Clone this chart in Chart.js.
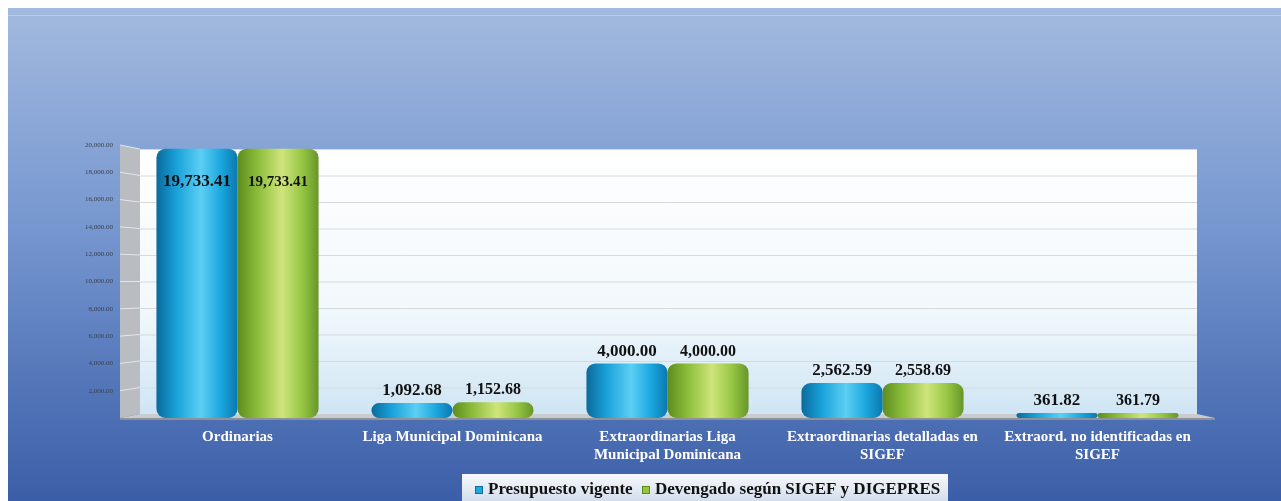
<!DOCTYPE html>
<html>
<head>
<meta charset="utf-8">
<script src="https://cdn.jsdelivr.net/npm/chart.js@4.4.1/dist/chart.umd.min.js"></script>
<style>
  html, body { margin: 0; padding: 0; background: #fff; }
  #wrap { position: relative; width: 1281px; height: 501px; }
</style>
</head>
<body>
<div id="wrap"><canvas id="chart" width="1281" height="501"></canvas></div>
<script>
// ─── Data ────────────────────────────────────────────────────────────────
const CATEGORIES = [
  "Ordinarias",
  "Liga Municipal Dominicana",
  ["Extraordinarias Liga", "Municipal Dominicana"],
  ["Extraordinarias detalladas en", "SIGEF"],
  ["Extraord. no identificadas en", "SIGEF"],
];
const PRESUPUESTO = [19733.41, 1092.68, 4000.00, 2562.59, 361.82];
const DEVENGADO   = [19733.41, 1152.68, 4000.00, 2558.69, 361.79];
const SERIES_LABELS = ["Presupuesto vigente", "Devengado según SIGEF y DIGEPRES"];
const Y_MAX  = 20000;
const Y_STEP = 2000;

const CAT_PCT = 0.754;
const SERIF = "'Liberation Serif', 'Times New Roman', serif";

const fmt = v => v.toLocaleString("en-US", { minimumFractionDigits: 2, maximumFractionDigits: 2 });

// ─── Gradients ───────────────────────────────────────────────────────────
const BLUE_STOPS  = [[0, "#0a6a9c"], [0.25, "#19a2da"], [0.55, "#5ccff4"], [0.8, "#1aa6de"], [1, "#0b78ae"]];
const GREEN_STOPS = [[0, "#5d8c1e"], [0.25, "#8cbd3a"], [0.55, "#cfe57c"], [0.8, "#96c543"], [1, "#67962a"]];

function barFill(stops, flat, side) {
  return ctx => {
    const chart = ctx.chart;
    if (!chart.chartArea || ctx.dataIndex === undefined) return flat;
    const xs = chart.scales.x;
    const c  = xs.getPixelForValue(ctx.dataIndex);
    const w  = (chart.chartArea.width / CATEGORIES.length) * CAT_PCT / 2;
    const x0 = side === 0 ? c - w : c;
    const g  = chart.ctx.createLinearGradient(x0, 0, x0 + w, 0);
    stops.forEach(s => g.addColorStop(s[0], s[1]));
    return g;
  };
}

// ─── Background + 3D walls ───────────────────────────────────────────────
const backdrop = {
  id: "backdrop",
  beforeDraw(chart) {
    const { ctx, width, height } = chart;
    const ys = chart.scales.y;
    ctx.save();
    ctx.fillStyle = "#ffffff";
    ctx.fillRect(0, 0, width, height);

    const bg = ctx.createLinearGradient(0, 8, 0, height);
    bg.addColorStop(0, "#a3badf");
    bg.addColorStop(0.45, "#7596cf");
    bg.addColorStop(1, "#3b5ea8");
    ctx.fillStyle = bg;
    ctx.fillRect(8, 8, width - 8, height - 8);
    ctx.fillStyle = "rgba(255,255,255,0.25)";
    ctx.fillRect(8, 15, width - 8, 1);

    const top = ys.getPixelForValue(Y_MAX), bot = ys.getPixelForValue(0);
    const bx0 = 140, bx1 = 1197, back = 4;

    // back wall
    const wall = ctx.createLinearGradient(0, top + back, 0, bot - back);
    wall.addColorStop(0, "#ffffff");
    wall.addColorStop(0.6, "#f2f8fc");
    wall.addColorStop(1, "#cfe5f4");
    ctx.fillStyle = wall;
    ctx.fillRect(bx0, top + back, bx1 - bx0, bot - top - 2 * back);

    // left wall
    ctx.fillStyle = "#b9bcc0";
    ctx.beginPath();
    ctx.moveTo(120, top); ctx.lineTo(bx0, top + back);
    ctx.lineTo(bx0, bot - back); ctx.lineTo(120, bot);
    ctx.closePath(); ctx.fill();

    // grid lines
    for (let v = Y_STEP; v <= Y_MAX; v += Y_STEP) {
      const y = ys.getPixelForValue(v);
      const yb = top + back + (y - top) * (bot - top - 2 * back) / (bot - top);
      ctx.strokeStyle = "#e4e6e8";
      ctx.lineWidth = 1;
      ctx.beginPath(); ctx.moveTo(120, y); ctx.lineTo(bx0, yb); ctx.stroke();
      ctx.strokeStyle = "#d6dadd";
      ctx.beginPath(); ctx.moveTo(bx0, yb + 0.5); ctx.lineTo(bx1, yb + 0.5); ctx.stroke();
    }

    // floor
    ctx.fillStyle = "#c9ccce";
    ctx.beginPath();
    ctx.moveTo(120, bot); ctx.lineTo(bx0, bot - back);
    ctx.lineTo(bx1, bot - back); ctx.lineTo(1215, bot);
    ctx.closePath(); ctx.fill();
    ctx.fillStyle = "#8e9296";
    ctx.fillRect(120, bot, 1095, 2);
    ctx.restore();
  },
};

// ─── Value labels + legend ───────────────────────────────────────────────
const overlay = {
  id: "overlay",
  afterDatasetsDraw(chart) {
    const { ctx } = chart;
    ctx.save();
    ctx.fillStyle = "#111";
    ctx.textAlign = "center";
    ctx.textBaseline = "middle";
    chart.data.datasets.forEach((ds, di) => {
      chart.getDatasetMeta(di).data.forEach((bar, i) => {
        const v = ds.data[i];
        const inside = v > 15000;
        const size = di === 0 ? 17 : (inside ? 15 : 16);
        ctx.font = `bold ${size}px ${SERIF}`;
        const y = inside ? bar.y + 33 : bar.y - 12;
        ctx.fillText(fmt(v), bar.x, y);
      });
    });

    // legend box
    const lx = 462, ly = 474, lw = 486, lh = 27;
    const lg = ctx.createLinearGradient(0, ly, 0, ly + lh);
    lg.addColorStop(0, "#f7f9fc");
    lg.addColorStop(1, "#d3deec");
    ctx.fillStyle = lg;
    ctx.fillRect(lx, ly, lw, lh);
    ctx.font = `bold 17px ${SERIF}`;
    ctx.textAlign = "left";
    const items = [
      { x: 475, color: "#1fa8e0", edge: "#0b6d9f" },
      { x: 642, color: "#96c640", edge: "#5d8c1e" },
    ];
    items.forEach((it, i) => {
      ctx.fillStyle = it.edge;
      ctx.fillRect(it.x, 486, 8, 8);
      ctx.fillStyle = it.color;
      ctx.fillRect(it.x + 1, 487, 6, 6);
      ctx.fillStyle = "#111";
      ctx.fillText(SERIES_LABELS[i], it.x + 13, 490);
    });
    ctx.restore();
  },
};

// ─── Chart ───────────────────────────────────────────────────────────────
new Chart(document.getElementById("chart"), {
  type: "bar",
  data: {
    labels: CATEGORIES,
    datasets: [
      {
        label: SERIES_LABELS[0],
        data: PRESUPUESTO,
        backgroundColor: barFill(BLUE_STOPS, "#1fa8e0", 0),
        borderRadius: 9,
        borderSkipped: false,
        categoryPercentage: CAT_PCT,
        barPercentage: 1,
      },
      {
        label: SERIES_LABELS[1],
        data: DEVENGADO,
        backgroundColor: barFill(GREEN_STOPS, "#96c640", 1),
        borderRadius: 9,
        borderSkipped: false,
        categoryPercentage: CAT_PCT,
        barPercentage: 1,
      },
    ],
  },
  options: {
    responsive: false,
    animation: false,
    layout: { padding: { top: 145, right: 76, left: 0, bottom: 0 } },
    plugins: { legend: { display: false }, tooltip: { enabled: false } },
    scales: {
      x: {
        grid: { display: false, drawTicks: false },
        border: { display: false },
        ticks: {
          color: "#ffffff",
          font: { family: SERIF, size: 15, weight: "bold", lineHeight: 1.2 },
          padding: 10,
          maxRotation: 0,
          autoSkip: false,
        },
        afterFit: s => { s.height = 83; },
      },
      y: {
        min: 0,
        max: Y_MAX,
        grid: { display: false, drawTicks: false },
        border: { display: false },
        ticks: {
          stepSize: Y_STEP,
          color: "#3a3f48",
          font: { family: SERIF, size: 7 },
          padding: 17,
          callback: v => (v === 0 ? "" : fmt(v)),
        },
        afterFit: s => { s.width = 130; },
      },
    },
  },
  plugins: [backdrop, overlay],
});
</script>
</body>
</html>
